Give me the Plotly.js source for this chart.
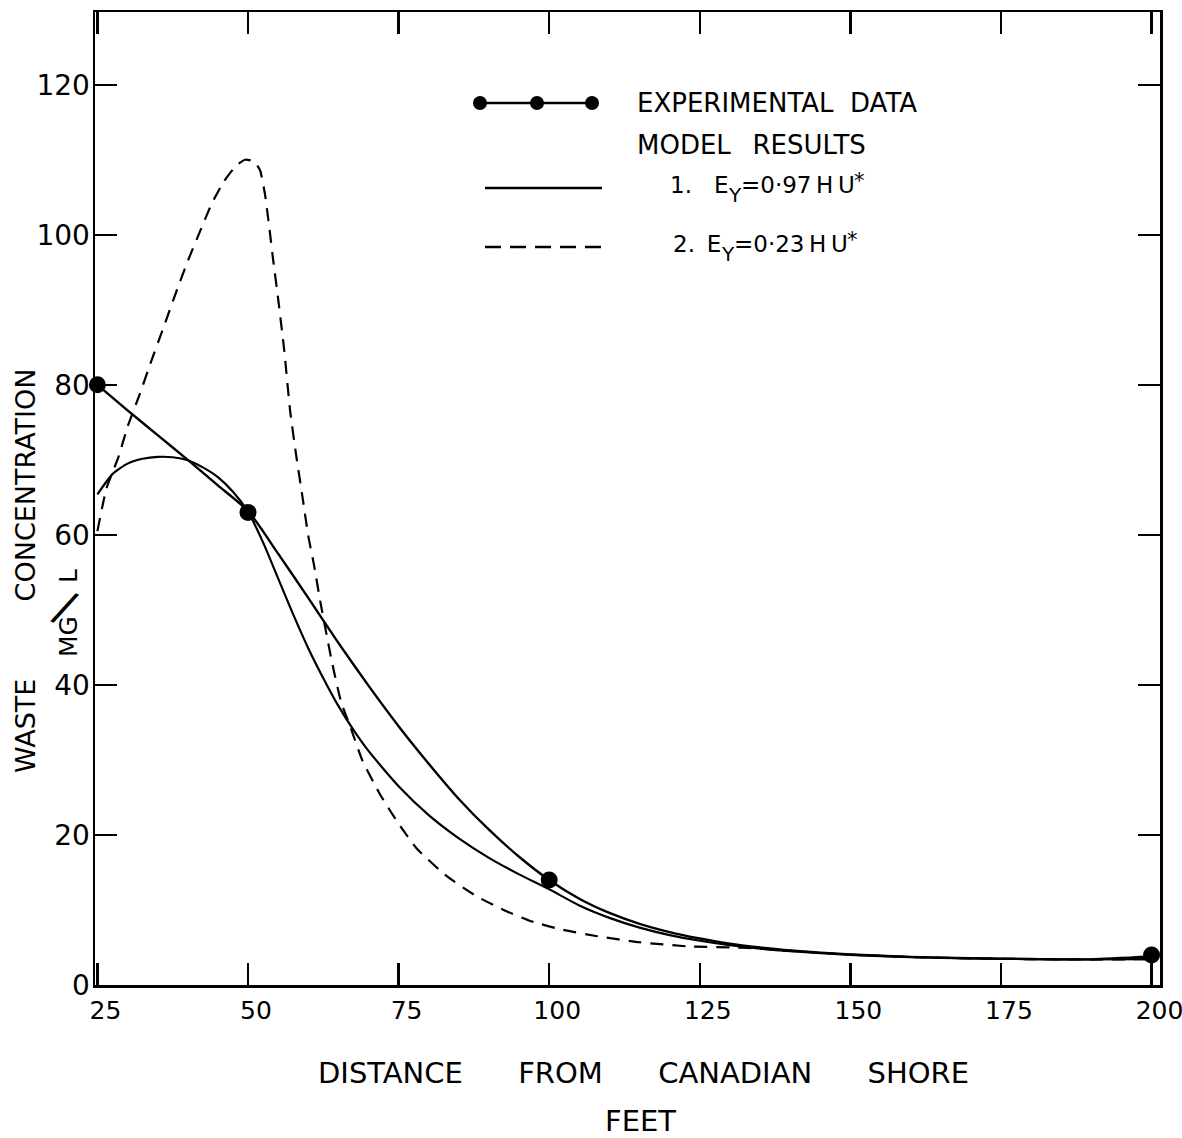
<!DOCTYPE html>
<html>
<head>
<meta charset="utf-8">
<script src="https://cdn.plot.ly/plotly-3.0.1.min.js"></script>
<style>
html, body { margin: 0; padding: 0; background: #ffffff; }
#chart { width: 1182px; height: 1138px; }
</style>
</head>
<body>
<div id="chart"></div>
<script>
// ---- data ----
const expX = [25, 50, 100, 200];
const expY = [80, 63, 14, 4];

const expCurveX = [25, 30, 35, 40, 45, 50, 55, 60, 65, 70, 75, 80, 85, 90, 95, 100, 105, 110, 115, 120, 125, 130, 135, 140, 150, 160, 170, 180, 190, 200];
const expCurveY = [80, 76.6, 73.3, 70.0, 66.6, 63.2, 57.5, 51.6, 45.6, 39.9, 34.5, 29.5, 24.8, 20.7, 17.1, 14.0, 11.5, 9.6, 8.15, 7.05, 6.2, 5.5, 5.0, 4.6, 4.07, 3.75, 3.57, 3.46, 3.42, 3.8];

const model1X = [25, 27.5, 30, 32.5, 35, 37.5, 40, 42.5, 45, 47.5, 50, 52.5, 55, 57.5, 60, 62.5, 65, 67.5, 70, 75, 80, 85, 90, 95, 100, 105, 110, 115, 120, 125, 130, 135, 140, 150, 160, 170, 180, 190, 200];
const model1Y = [65.4, 68.1, 69.5, 70.15, 70.4, 70.35, 69.95, 69.0, 67.7, 65.75, 63.1, 59.0, 54.2, 49.4, 44.9, 40.9, 37.2, 34.0, 31.2, 26.5, 22.65, 19.55, 16.95, 14.75, 12.75, 10.6, 8.95, 7.65, 6.65, 5.9, 5.3, 4.85, 4.5, 4.0, 3.72, 3.55, 3.45, 3.4, 3.45];

const model2X = [25, 26.5, 28.5, 30, 32, 34, 36, 38, 40, 42, 44, 46, 48, 49.5, 51, 52, 52.8, 53.5, 54.2, 55, 56, 57, 58, 59, 60, 61, 62, 63, 64, 65.5, 67, 69, 72, 75, 78, 83, 88, 93, 97, 102, 108, 115, 123, 131, 135, 140, 150, 160, 170, 180, 190, 200];
const model2Y = [60.5, 66.2, 70.4, 74.4, 78.7, 83.3, 87.7, 92.2, 96.5, 100.4, 104.2, 107.1, 109.2, 110, 109.8, 108.6, 105.5, 101.2, 96.5, 91.5, 84.7, 76.5, 70.6, 65.3, 59.9, 55.8, 51.1, 46.9, 42.8, 37.6, 34.4, 29.9, 25.3, 21.5, 18.2, 14.5, 11.8, 9.8, 8.5, 7.4, 6.5, 5.7, 5.15, 5.0, 4.85, 4.55, 4.05, 3.73, 3.55, 3.45, 3.4, 3.45];

const xTickVals = [25, 50, 75, 100, 125, 150, 175, 200];
const xTickText = ["25", "50", "75", "100", "125", "150", "175", "200"];
const yTickVals = [0, 20, 40, 60, 80, 100, 120];
const yTickText = ["0", "20", "40", "60", "80", "100", "120"];

const NB = "\u00A0", TH = "\u2009";
const xTitleText = "DISTANCE" + NB.repeat(6) + "FROM" + NB.repeat(6) + "CANADIAN" + NB.repeat(6) + "SHORE";
const xUnitText = "FEET";
const yTitleText = "WASTE" + NB.repeat(9) + "CONCENTRATION";
const yUnitTop = "MG";
const yUnitSlash = "/";
const yUnitBottom = "L";

const expLabel = "EXPERIMENTAL" + NB + NB + "DATA";
const modelHeader = "MODEL" + NB + NB + TH + "RESULTS";
const model1Parts = ["1." + NB + NB + NB + "E", "Y", "=0·97" + TH + "H" + TH + "U", "*"];
const model2Parts = ["2." + NB + TH + "E", "Y", "=0·23" + TH + "H" + TH + "U", "*"];

// ---- layout helpers ----
const FONT_NAME = "DejaVu Sans";
const FONT = FONT_NAME + ", Verdana, sans-serif";
const W = 1182, H = 1138;
const M = { l: 95, r: 22, t: 12, b: 153 };
const PW = W - M.l - M.r, PH = H - M.t - M.b;
const px = (x) => (x - M.l) / PW;          // pixel -> paper x
const py = (y) => (H - M.b - y) / PH;      // pixel -> paper y

const ctx = document.createElement("canvas").getContext("2d");
function textW(t, size) { ctx.font = size + "px '" + FONT_NAME + "'"; return ctx.measureText(t).width; }

const traces = [
  { x: expCurveX, y: expCurveY, mode: "lines", type: "scatter",
    line: { color: "#000", width: 2.4, shape: "spline", smoothing: 0.6 }, hoverinfo: "skip" },
  { x: model1X, y: model1Y, mode: "lines", type: "scatter",
    line: { color: "#000", width: 2.2, shape: "spline", smoothing: 0.6 }, hoverinfo: "skip" },
  { x: model2X, y: model2Y, mode: "lines", type: "scatter",
    line: { color: "#000", width: 2.2, dash: "13px,9px", shape: "spline", smoothing: 0.5 }, hoverinfo: "skip" },
  { x: expX, y: expY, mode: "markers", type: "scatter", cliponaxis: false,
    marker: { color: "#000", size: 17 } }
];

const axisCommon = {
  ticks: "inside", ticklen: 22, tickwidth: 2.5, tickcolor: "#000",
  showline: true, linewidth: 2.5, linecolor: "#000", mirror: "ticks",
  showgrid: false, zeroline: false, ticklabeloverflow: "allow"
};

const legendShapes = [
  { type: "line", xref: "paper", yref: "paper", x0: px(480), x1: px(592), y0: py(103), y1: py(103),
    line: { color: "#000", width: 2.5 } },
  { type: "line", xref: "paper", yref: "paper", x0: px(485), x1: px(602), y0: py(188), y1: py(188),
    line: { color: "#000", width: 2.5 } },
  { type: "line", xref: "paper", yref: "paper", x0: px(485), x1: px(603), y0: py(247), y1: py(247),
    line: { color: "#000", width: 2.5, dash: "16px,9px" } }
].concat([480, 537, 592].map(function (cx) {
  return { type: "circle", xref: "paper", yref: "paper", xsizemode: "pixel", ysizemode: "pixel",
    xanchor: px(cx), yanchor: py(103), x0: -7, x1: 7, y0: -7, y1: 7,
    fillcolor: "#000", line: { width: 0 } };
}));

function ann(text, x, y, size, opts) {
  return Object.assign({
    text: text, xref: "paper", yref: "paper", x: px(x), y: py(y),
    xanchor: "center", yanchor: "middle", showarrow: false,
    font: { family: FONT, size: size, color: "#000" }
  }, opts || {});
}

// equation label: main text, lowered subscript, main text, raised star
function eqLabel(parts, x0, yc) {
  const FS = 23, SUB = 20, SUP = 21;
  const w0 = textW(parts[0], FS), w1 = textW(parts[1], SUB), w2 = textW(parts[2], FS);
  return [
    ann(parts[0], x0, yc, FS, { xanchor: "left" }),
    ann(parts[1], x0 + w0, yc + 10, SUB, { xanchor: "left" }),
    ann(parts[2], x0 + w0 + w1, yc, FS, { xanchor: "left" }),
    ann(parts[3], x0 + w0 + w1 + w2, yc - 4, SUP, { xanchor: "left" })
  ];
}

const annotations = [
  ann(xTitleText, 643, 1073, 29),
  ann(xUnitText, 640, 1121, 29),
  ann(yTitleText, 26, 571, 27, { textangle: -90 }),
  ann(yUnitTop, 68, 637, 25, { textangle: -90 }),
  ann(yUnitSlash, 65, 606, 44, { textangle: 25 }),
  ann(yUnitBottom, 68, 576, 25, { textangle: -90 }),
  ann(expLabel, 635, 103, 26, { xanchor: "left" }),
  ann(modelHeader, 635, 145, 26, { xanchor: "left" })
].concat(eqLabel(model1Parts, 668, 185), eqLabel(model2Parts, 671, 244));

const layout = {
  width: W, height: H, margin: M,
  paper_bgcolor: "#fff", plot_bgcolor: "#fff",
  showlegend: false,
  font: { family: FONT, color: "#000" },
  xaxis: Object.assign({}, axisCommon, {
    range: [24.6, 201.4], tickmode: "array", tickvals: xTickVals, ticktext: xTickText,
    tickfont: { family: FONT, size: 25, color: "#000" },
    ticklabelstandoff: 1, ticklabelshift: 8
  }),
  yaxis: Object.assign({}, axisCommon, {
    range: [0, 129.7], tickmode: "array", tickvals: yTickVals, ticktext: yTickText,
    tickfont: { family: FONT, size: 28, color: "#000" },
    ticklabelstandoff: -3
  }),
  shapes: legendShapes,
  annotations: annotations
};

Plotly.newPlot("chart", traces, layout, { displayModeBar: false, staticPlot: true });
</script>
</body>
</html>
